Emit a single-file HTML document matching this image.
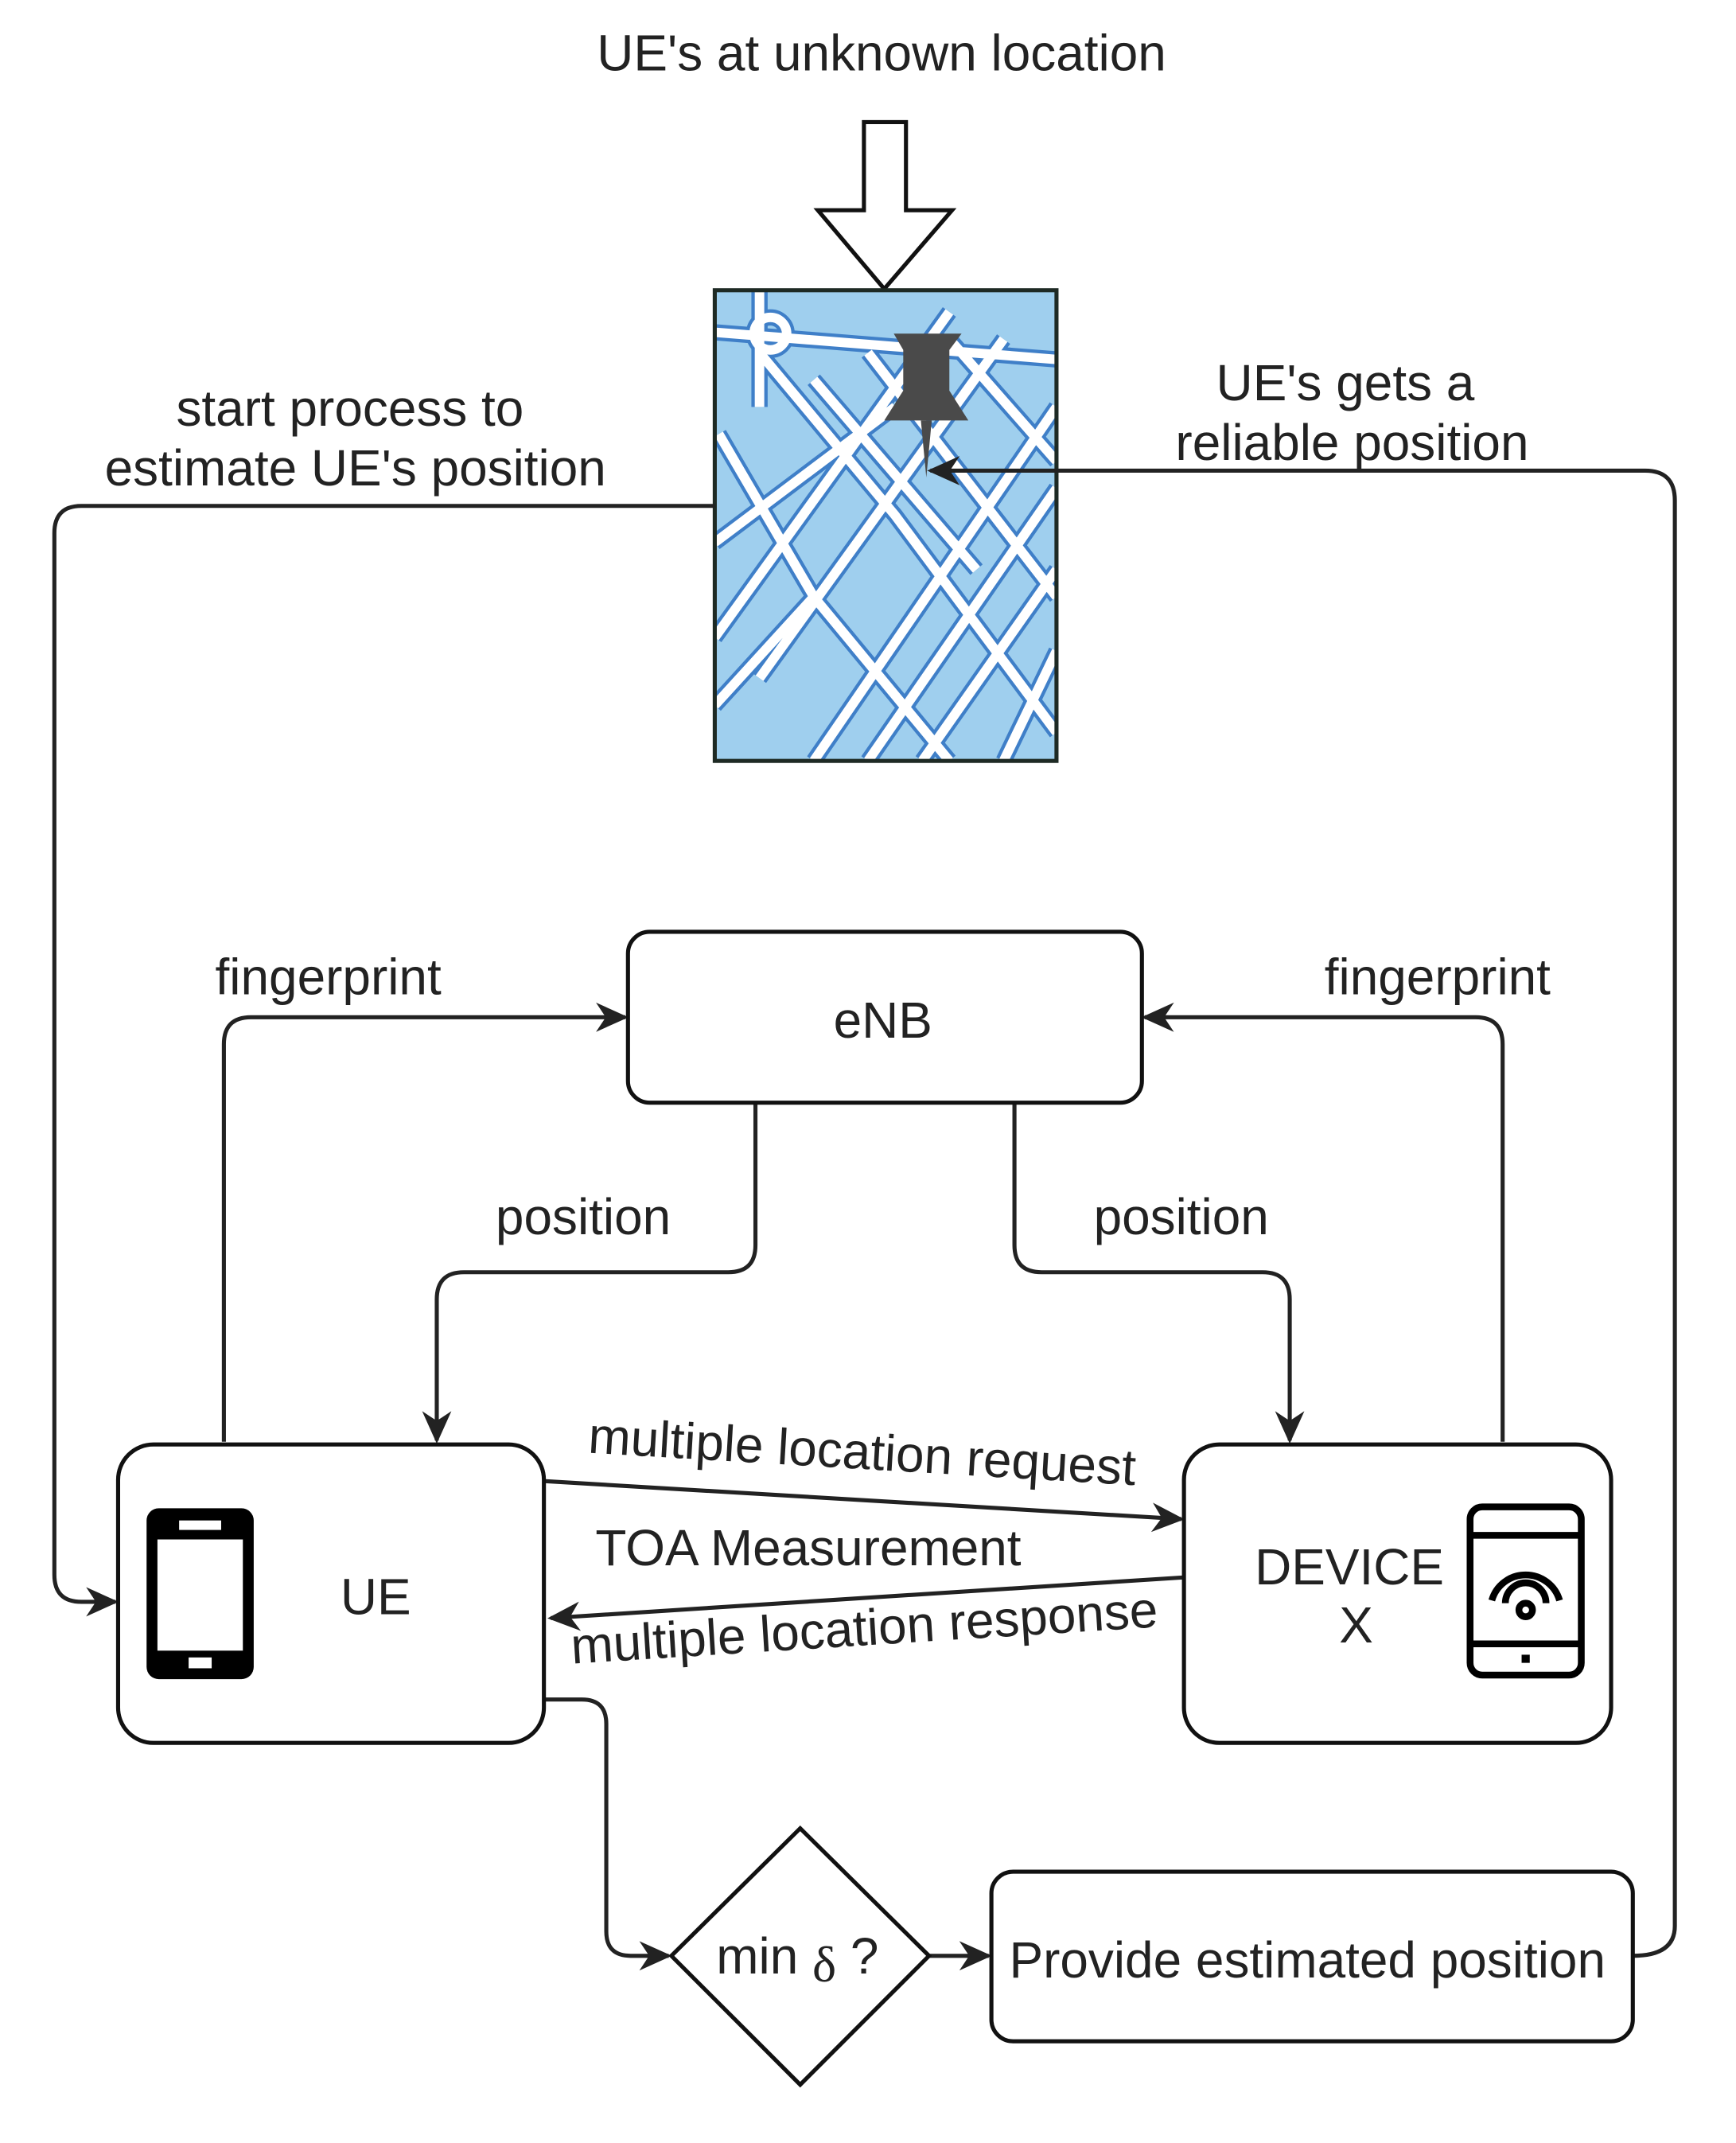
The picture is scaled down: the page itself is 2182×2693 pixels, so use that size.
<!DOCTYPE html>
<html><head><meta charset="utf-8"><style>
html,body{margin:0;padding:0;background:#fff}
svg{display:block}
text{font-family:"Liberation Sans",Arial,sans-serif;fill:#222}
</style></head><body>
<svg width="2182" height="2693" viewBox="0 0 1280 1580" xmlns="http://www.w3.org/2000/svg">
<defs>
<marker id="ah" viewBox="0 0 20 20" refX="18" refY="10" markerWidth="24" markerHeight="24" markerUnits="userSpaceOnUse" orient="auto">
<path d="M0,1 L20,10 L0,19 L6,10 Z" fill="#222"/></marker>
<clipPath id="mc"><rect x="527" y="214" width="252" height="347"/></clipPath>
</defs>
<rect width="1280" height="1580" fill="#fff"/>
<text x="650" y="52" font-size="37.5" text-anchor="middle">UE's at unknown location</text>
<path d="M637,90 H668 V155 H702 L652,213 L603,155 H637 Z" fill="#fff" stroke="#111" stroke-width="3"/>
<!-- map -->
<rect x="527" y="214" width="252" height="347" fill="#9fcfee"/>
<g clip-path="url(#mc)" fill="none">
<g stroke="#3f7fc8" stroke-width="12">
<path d="M530,320 L600,440 L700,561 M560,260 L660,380 L779,540 M600,280 L720,420 M640,260 L779,440 M700,250 L779,340 M779,300 L600,561 M779,360 L640,561 M779,420 L680,561 M779,480 L740,561 M740,250 L560,500 M700,230 L527,470 M660,300 L527,400 M527,520 L600,440 M527,245 L779,265 M560,214 V300"/>
<circle cx="568" cy="246" r="12"/>
</g>
<g stroke="#fff" stroke-width="7">
<path d="M530,320 L600,440 L700,561 M560,260 L660,380 L779,540 M600,280 L720,420 M640,260 L779,440 M700,250 L779,340 M779,300 L600,561 M779,360 L640,561 M779,420 L680,561 M779,480 L740,561 M740,250 L560,500 M700,230 L527,470 M660,300 L527,400 M527,520 L600,440 M527,245 L779,265 M560,214 V300"/>
<circle cx="568" cy="246" r="12"/>
</g>
</g>
<rect x="527" y="214" width="252" height="347" fill="none" stroke="#1e2a24" stroke-width="3"/>
<!-- pin -->
<path d="M659,246 H709 L700,258 V288 L714,310 H652 L666,288 V258 Z" fill="#4a4a4a"/>
<path d="M679,310 L683,352 L687,310 Z" fill="#4a4a4a"/>
<!-- labels -->
<text x="258" y="314" font-size="37.5" text-anchor="middle">start process to</text>
<text x="262" y="358" font-size="37.5" text-anchor="middle">estimate UE's position</text>
<text x="992" y="295" font-size="37.5" text-anchor="middle">UE's gets a</text>
<text x="997" y="339" font-size="37.5" text-anchor="middle">reliable position</text>
<g fill="none" stroke="#222" stroke-width="3">
<path d="M527,373 H60 Q40,373 40,393 V1161 Q40,1181 60,1181 H85" marker-end="url(#ah)"/>
<path d="M1204,1442 Q1235,1442 1235,1420 V369 Q1235,347 1213,347 H686" marker-end="url(#ah)"/>
<path d="M165,1063 V770 Q165,750 185,750 H461" marker-end="url(#ah)"/>
<path d="M1108,1063 V770 Q1108,750 1088,750 H844" marker-end="url(#ah)"/>
<path d="M557,813 V918 Q557,938 537,938 H342 Q322,938 322,958 V1062" marker-end="url(#ah)"/>
<path d="M748,813 V918 Q748,938 768,938 H931 Q951,938 951,958 V1062" marker-end="url(#ah)"/>
<path d="M401,1092 L871,1120" marker-end="url(#ah)"/>
<path d="M873,1163 L406,1193" marker-end="url(#ah)"/>
<path d="M401,1253 H429 Q447,1253 447,1271 V1424 Q447,1442 465,1442 H493" marker-end="url(#ah)"/>
<path d="M685,1442 H729" marker-end="url(#ah)"/>
</g>
<text x="242" y="733" font-size="37.5" text-anchor="middle">fingerprint</text>
<text x="1060" y="733" font-size="37.5" text-anchor="middle">fingerprint</text>
<text x="430" y="910" font-size="37.5" text-anchor="middle">position</text>
<text x="871" y="910" font-size="37.5" text-anchor="middle">position</text>
<!-- eNB -->
<rect x="463" y="687" width="379" height="126" rx="16" fill="#fff" stroke="#111" stroke-width="3"/>
<text x="651" y="765" font-size="37.5" text-anchor="middle">eNB</text>
<!-- UE -->
<rect x="87" y="1065" width="314" height="220" rx="26" fill="#fff" stroke="#111" stroke-width="3"/>
<rect x="108" y="1112" width="79" height="126" rx="9" fill="#000"/>
<rect x="116" y="1135" width="63" height="82" fill="#fff"/>
<rect x="132" y="1121" width="31" height="7" fill="#fff"/>
<rect x="139" y="1222" width="17" height="8" fill="#fff"/>
<text x="277" y="1190" font-size="37.5" text-anchor="middle">UE</text>
<!-- Device -->
<rect x="873" y="1065" width="315" height="220" rx="26" fill="#fff" stroke="#111" stroke-width="3"/>
<text x="995" y="1168" font-size="37.5" text-anchor="middle">DEVICE</text>
<text x="1000" y="1211" font-size="37.5" text-anchor="middle">X</text>
<g fill="none" stroke="#000" stroke-width="5">
<rect x="1084" y="1111" width="82" height="124" rx="9"/>
<path d="M1086,1132 H1164 M1086,1212 H1164"/>
<path d="M1100,1180 A26,26 0 0 1 1150,1180"/>
<path d="M1110,1182 A15,15 0 0 1 1140,1182"/>
<circle cx="1125" cy="1187" r="5"/>
</g>
<rect x="1122" y="1220" width="6" height="6" fill="#000"/>
<!-- arrow labels -->
<text transform="translate(635,1083) rotate(3.4)" font-size="37.5" text-anchor="middle">multiple location request</text>
<text x="596" y="1154" font-size="37.5" text-anchor="middle">TOA Measurement</text>
<text transform="translate(638,1213) rotate(-3.6)" font-size="37.5" text-anchor="middle">multiple location response</text>
<!-- diamond -->
<path d="M590,1348 L685,1442 L590,1537 L495,1442 Z" fill="#fff" stroke="#111" stroke-width="3"/>
<text x="588" y="1455" font-size="37.5" text-anchor="middle">min <tspan font-family="Liberation Serif" dy="6">δ</tspan><tspan dy="-6"> ?</tspan></text>
<!-- provide -->
<rect x="731" y="1380" width="473" height="125" rx="16" fill="#fff" stroke="#111" stroke-width="3"/>
<text x="964" y="1458" font-size="37.5" text-anchor="middle">Provide estimated position</text>
</svg>
</body></html>
